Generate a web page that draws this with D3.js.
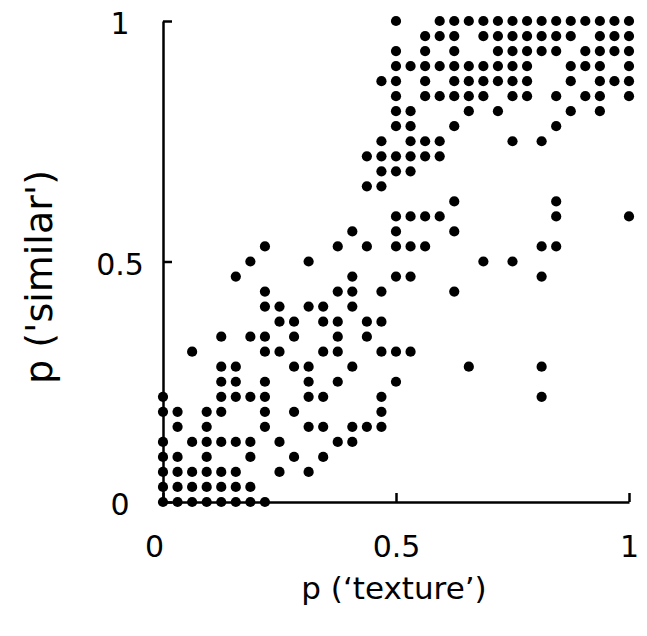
<!DOCTYPE html>
<html>
<head>
<meta charset="utf-8">
<script src="https://cdn.jsdelivr.net/npm/d3@7"></script>
<style>
  html, body { margin: 0; padding: 0; background: #fff; }
  svg { display: block; }
</style>
</head>
<body>
<svg id="chart" width="647" height="636"></svg>
<script>
// Values are proportions on a 1/32 grid: numerator k means k/32.
const GRID_DENOM = 32;
// p('similar') numerator for each row of dots
const similarLevels = [0,1,2,3,4,5,6,7,8,9,10,11,12,13,14,15,16,17,18,19,20,21,22,23,24,25,26,27,28,29,30,31,32];
// p('texture') numerators of the dots found in each row (same order as similarLevels)
const textureByLevel = [
  [0,1,2,3,4,5,6,7],
  [0,1,2,3,4,5,6],
  [0,1,2,3,4,5,8,10],
  [0,1,3,6,9,11],
  [0,2,3,4,5,6,8,12,13],
  [1,3,7,10,11,13,14,15],
  [0,1,3,4,7,9,15],
  [0,4,5,6,7,10,11,15,26],
  [4,5,7,10,12,16],
  [4,5,9,10,13,21,26],
  [2,7,8,11,12,15,16,17],
  [4,6,7,9,12,14],
  [8,9,11,12,14,15],
  [7,8,10,11,13],
  [7,12,13,15,20],
  [5,13,16,17,26],
  [6,10,22,24],
  [7,12,14,16,17,18,26,27],
  [13,16,20],
  [16,17,18,19,27,32],
  [20,27],
  [14,15],
  [15,16,17],
  [14,15,16,17,18,19],
  [15,17,18,19,24,26],
  [16,17,20,27],
  [16,17,21,23,28,30],
  [16,18,19,20,21,22,24,25,27,29,30,32],
  [15,16,18,20,21,22,23,24,25,28,30,31,32],
  [16,17,18,19,20,21,22,23,24,25,28,29,30,32],
  [16,18,20,23,24,25,26,27,29,30,31,32],
  [18,19,20,22,23,24,25,26,27,28,30,31,32],
  [16,19,20,21,22,23,24,25,26,27,28,29,30,31,32]
];
const tickValues = [0, 0.5, 1];
const tickLabels = ["0", "0.5", "1"];
const xTitle = "p (\u2018texture\u2019)";
const yTitle = "p ('similar')";

const points = [];
similarLevels.forEach((lv, r) => {
  textureByLevel[r].forEach(k => points.push({ x: k / GRID_DENOM, y: lv / GRID_DENOM }));
});

const svg = d3.select("#chart");
const x = d3.scaleLinear().domain([0, 1]).range([163, 629]);
const y = d3.scaleLinear().domain([0, 1]).range([502, 21]);
const FONT = "'DejaVu Sans', Verdana, sans-serif";

// X axis
const gx = svg.append("g").attr("transform", `translate(0,${y(0)})`)
  .call(d3.axisBottom(x).tickValues(tickValues)
    .tickFormat((d, i) => tickLabels[i])
    .tickSizeInner(-9).tickSizeOuter(0).tickPadding(34));
gx.select(".domain").attr("stroke", "#000").attr("stroke-width", 2.5);
gx.selectAll(".tick line").attr("stroke", "#000").attr("stroke-width", 2.5);
gx.selectAll(".tick text").attr("font-family", FONT).attr("font-size", 30).attr("fill", "#000")
  .attr("dx", (d, i) => i === 0 ? -9 : 0);

// Y axis
const gy = svg.append("g").attr("transform", `translate(${x(0)},0)`)
  .call(d3.axisLeft(y).tickValues(tickValues)
    .tickFormat((d, i) => tickLabels[i])
    .tickSizeInner(-9).tickSizeOuter(0).tickPadding(43));
gy.select(".domain").attr("stroke", "#000").attr("stroke-width", 2.5);
gy.selectAll(".tick line").attr("stroke", "#000").attr("stroke-width", 2.5);
gy.selectAll(".tick text").attr("font-family", FONT).attr("font-size", 30).attr("fill", "#000")
  .attr("text-anchor", "middle").attr("dy", "0.42em");

// Dots
svg.append("g").selectAll("circle").data(points).join("circle")
  .attr("cx", d => x(d.x)).attr("cy", d => y(d.y)).attr("r", 5.1).attr("fill", "#000");

// Titles
svg.append("text").attr("x", 394).attr("y", 599).attr("text-anchor", "middle")
  .attr("font-family", FONT).attr("font-size", 31).attr("fill", "#000").text(xTitle);
svg.append("text").attr("transform", "translate(52,277) rotate(-90)").attr("text-anchor", "middle")
  .attr("font-family", FONT).attr("font-size", 38).attr("fill", "#000").text(yTitle);
</script>
</body>
</html>
